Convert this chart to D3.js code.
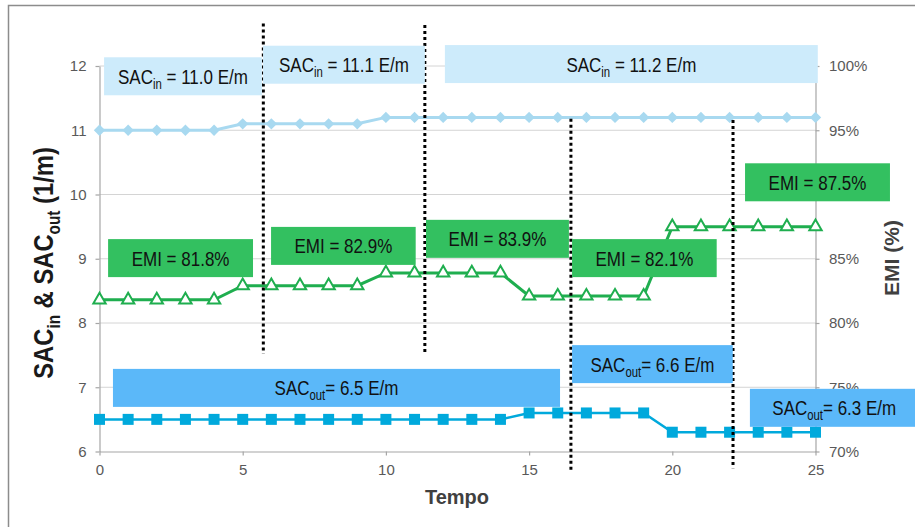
<!DOCTYPE html>
<html><head><meta charset="utf-8">
<script src="https://cdn.jsdelivr.net/npm/d3@7"></script>
<style>
html,body{margin:0;padding:0;background:#fff;}
svg{display:block;font-family:"Liberation Sans",Arial,sans-serif;}
</style></head>
<body>
<svg id="chart" width="915" height="527"></svg>
<script>
// ---- data ----
const tempo  = [0,1,2,3,4,5,6,7,8,9,10,11,12,13,14,15,16,17,18,19,20,21,22,23,24,25];
const sacIn  = [11.0,11.0,11.0,11.0,11.0,11.1,11.1,11.1,11.1,11.1,11.2,11.2,11.2,11.2,11.2,11.2,11.2,11.2,11.2,11.2,11.2,11.2,11.2,11.2,11.2,11.2];
const emi    = [81.8,81.8,81.8,81.8,81.8,82.9,82.9,82.9,82.9,82.9,83.9,83.9,83.9,83.9,83.9,82.1,82.1,82.1,82.1,82.1,87.5,87.5,87.5,87.5,87.5,87.5];
const sacOut = [6.5,6.5,6.5,6.5,6.5,6.5,6.5,6.5,6.5,6.5,6.5,6.5,6.5,6.5,6.5,6.6,6.6,6.6,6.6,6.6,6.3,6.3,6.3,6.3,6.3,6.3];
const xTicks = [0,5,10,15,20,25];
const yLeftTicks = [6,7,8,9,10,11,12];
const yRightTicks = [70,75,80,85,90,95,100];
const yRightHiddenLabels = [90]; // covered by the "EMI = 87.5%" box in the reference

// annotation texts
const sacInLabels  = ["11.0","11.1","11.2"];
const emiLabels    = ["81.8%","82.9%","83.9%","82.1%","87.5%"];
const sacOutLabels = ["6.5","6.6","6.3"];

// annotation placement (in data units of x / left y)
const sacInBoxes  = [{x0:0.16,x1:5.67,yc:11.84},{x0:5.71,x1:11.36,yc:12.02},{x0:12.06,x1:25.08,yc:12.03}];
const emiBoxes    = [{x0:0.30,x1:5.36,yc:9.01},{x0:5.99,x1:11.04,yc:9.20},{x0:11.40,x1:16.39,yc:9.31},{x0:16.50,x1:21.55,yc:9.01},{x0:22.54,x1:27.6,yc:10.19}];
const sacOutBoxes = [{x0:0.47,x1:16.08,yc:6.99},{x0:16.50,x1:22.11,yc:7.36},{x0:22.71,x1:28.6,yc:6.68}];
const dividers    = [{x:5.72,y0:12.66,y1:7.52},{x:11.36,y0:12.64,y1:7.52},{x:16.46,y0:11.18,y1:5.70},{x:22.12,y0:11.16,y1:5.74}];

// ---- drawing ----
const svg = d3.select("#chart");
const x  = d3.scaleLinear().domain([0,25]).range([99.5,815.5]);
const yL = d3.scaleLinear().domain([6,12]).range([451.5,66]);
const yR = d3.scaleLinear().domain([70,100]).range([451.5,66]);

// outer frame
svg.append("rect").attr("x",8.5).attr("y",5.5).attr("width",930).attr("height",540)
  .attr("fill","none").attr("stroke","#8c8c8c").attr("stroke-width",1.5);

// gridlines
svg.append("g").selectAll("line").data(yLeftTicks.filter(d=>d>6)).join("line")
  .attr("x1",x(0)).attr("x2",x(25)).attr("y1",d=>yL(d)).attr("y2",d=>yL(d))
  .attr("stroke","#d4d4d4").attr("stroke-width",1);

function styleAxis(g){
  g.selectAll(".domain").attr("stroke","#a6a6a6").attr("stroke-width",1.2);
  g.selectAll(".tick line").attr("stroke","#a6a6a6").attr("stroke-width",1.2);
  g.selectAll(".tick text").attr("fill","#595959").style("font-size","15px")
   .style("font-family","'Liberation Sans',Arial,sans-serif");
}
svg.append("g").attr("transform",`translate(${x(0)},0)`)
  .call(d3.axisLeft(yL).tickValues(yLeftTicks).tickSize(4).tickSizeOuter(0).tickPadding(9).tickFormat(d3.format("d")))
  .call(styleAxis);
svg.append("g").attr("transform",`translate(${x(25)},0)`)
  .call(d3.axisRight(yR).tickValues(yRightTicks).tickSize(4).tickSizeOuter(0).tickPadding(9.5)
        .tickFormat(d=>yRightHiddenLabels.includes(d) ? "" : d+"%"))
  .call(styleAxis);
svg.append("g").attr("transform",`translate(0,${yL(6)})`)
  .call(d3.axisBottom(x).tickValues(xTicks).tickSize(4).tickSizeOuter(0).tickPadding(9))
  .call(styleAxis);

// series
const line = d3.line();

// SAC_in
svg.append("path").attr("d", line(tempo.map((t,i)=>[x(t), yL(sacIn[i])])))
  .attr("fill","none").attr("stroke","#a8d9f0").attr("stroke-width",3);
svg.append("g").selectAll("path").data(tempo).join("path")
  .attr("d", d3.symbol(d3.symbolSquare, 64)())
  .attr("transform",(t,i)=>`translate(${x(t)},${yL(sacIn[i])}) rotate(45)`)
  .attr("fill","#a8d9f0");

// EMI
svg.append("path").attr("d", line(tempo.map((t,i)=>[x(t), yR(emi[i])])))
  .attr("fill","none").attr("stroke","#1fae4f").attr("stroke-width",3);
svg.append("g").selectAll("path").data(tempo).join("path")
  .attr("d", d3.symbol(d3.symbolTriangle, 66)())
  .attr("transform",(t,i)=>`translate(${x(t)},${yR(emi[i])})`)
  .attr("fill","#fff").attr("stroke","#1fae4f").attr("stroke-width",2);

// SAC_out
svg.append("path").attr("d", line(tempo.map((t,i)=>[x(t), yL(sacOut[i])])))
  .attr("fill","none").attr("stroke","#00a9dc").attr("stroke-width",2.5);
svg.append("g").selectAll("path").data(tempo).join("path")
  .attr("d", d3.symbol(d3.symbolSquare, 121)())
  .attr("transform",(t,i)=>`translate(${x(t)},${yL(sacOut[i])})`)
  .attr("fill","#00a9dc");

// dotted dividers
svg.append("g").selectAll("line").data(dividers).join("line")
  .attr("x1",d=>x(d.x)).attr("x2",d=>x(d.x)).attr("y1",d=>yL(d.y0)).attr("y2",d=>yL(d.y1))
  .attr("stroke","#000").attr("stroke-width",3).attr("stroke-dasharray","3,3");

// annotation boxes
const BOX_H = 38, NARROW = 0.81;
function drawBoxes(boxes, fill, build){
  const g = svg.append("g");
  boxes.forEach((b,i)=>{
    const x0 = x(b.x0), x1 = x(b.x1), yc = yL(b.yc);
    g.append("rect").attr("x",x0).attr("y",yc-BOX_H/2).attr("width",x1-x0).attr("height",BOX_H).attr("fill",fill);
    const t = g.append("text").attr("text-anchor","middle").attr("fill","#111").style("font-size","21px")
      .attr("transform",`translate(${(x0+x1)/2},${yc+7.5}) scale(${NARROW},1)`);
    build(t,i);
  });
}
drawBoxes(sacInBoxes, "#cdebfb", (t,i)=>{
  t.append("tspan").text("SAC");
  t.append("tspan").attr("dy",5).style("font-size","14px").text("in");
  t.append("tspan").attr("dy",-5).text(" = " + sacInLabels[i] + " E/m");
});
drawBoxes(emiBoxes, "#33c060", (t,i)=>{
  t.text("EMI = " + emiLabels[i]);
});
drawBoxes(sacOutBoxes, "#5bb8f9", (t,i)=>{
  t.append("tspan").text("SAC");
  t.append("tspan").attr("dy",5).style("font-size","14px").text("out");
  t.append("tspan").attr("dy",-5).text("= " + sacOutLabels[i] + " E/m");
});

// axis titles
const lt = svg.append("text").attr("text-anchor","middle").attr("fill","#1a1a1a")
  .style("font-size","28px").style("font-weight","bold")
  .attr("transform",`translate(53,263) rotate(-90) scale(0.85,1)`);
lt.append("tspan").text("SAC");
lt.append("tspan").attr("dy",7).style("font-size","18px").text("in");
lt.append("tspan").attr("dy",-7).text("  &  SAC");
lt.append("tspan").attr("dy",7).style("font-size","18px").text("out");
lt.append("tspan").attr("dy",-7).text("  (1/m)");

svg.append("text").attr("text-anchor","middle").attr("fill","#404040")
  .style("font-size","21px").style("font-weight","bold")
  .attr("transform",`translate(899,258) rotate(-90)`).text("EMI  (%)");

svg.append("text").attr("text-anchor","middle").attr("fill","#404040")
  .style("font-size","20px").style("font-weight","bold")
  .attr("x",457).attr("y",504).text("Tempo");
</script>
</body></html>
